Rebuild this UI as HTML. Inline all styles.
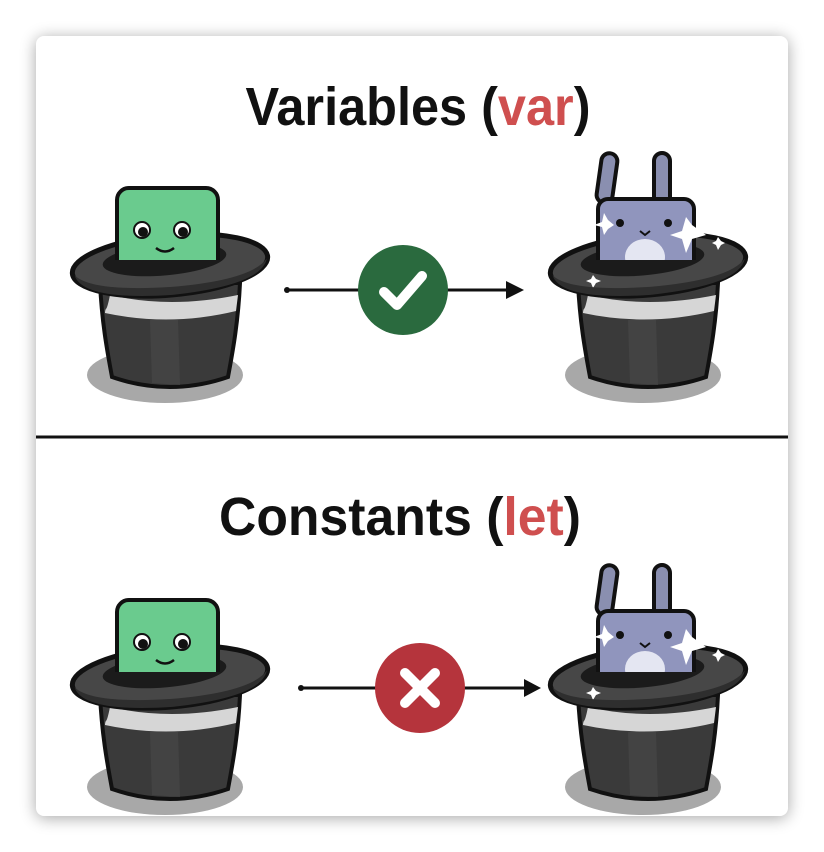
<!DOCTYPE html>
<html><head><meta charset="utf-8"><style>
html,body{margin:0;padding:0;background:#fff;}
svg{display:block}
</style></head><body>
<svg width="824" height="852" viewBox="0 0 824 852" xmlns="http://www.w3.org/2000/svg">
<defs>
<filter id="sh" x="-10%" y="-10%" width="120%" height="120%"><feGaussianBlur stdDeviation="8"/></filter>
<clipPath id="above"><rect x="-120" y="-200" width="240" height="195"/></clipPath>
<g id="hatback">
  <ellipse cx="-5" cy="110" rx="78" ry="28" fill="#a8a8a8"/>
  <path d="M-70,18 C-68,60 -62,90 -58,112 Q0,132 58,112 C62,90 68,60 70,18 Z" fill="#3a3a3a" stroke="#111" stroke-width="4"/>
  <path d="M-60,30 C-64,50 -64,40 -65,48 Q0,62 66,46 L68,30 Q0,44 -60,30Z" fill="#d6d6d6"/>
  <path d="M-20,55 L-18,118 L10,120 L8,55Z" fill="#4a4a4a" opacity="0.6"/>
  <g transform="rotate(-5)">
    <ellipse cx="0" cy="0" rx="98" ry="30" fill="#474747" stroke="#111" stroke-width="5"/>
    <ellipse cx="-5" cy="-6" rx="62" ry="16" fill="#1b1b1b"/>
  </g>
</g>
<g id="hatfront">
  <g transform="rotate(-5)">
    <path d="M-96,2 Q-90,28 0,30 Q90,28 97,2 Q80,22 0,22 Q-80,20 -96,2Z" fill="#2e2e2e"/>
  </g>
</g>
<g id="block">
  <g clip-path="url(#above)">
    <rect x="-53" y="-77" width="101" height="85" rx="12" fill="#6acb8e" stroke="#111" stroke-width="4"/>
    <circle cx="-28" cy="-35" r="8" fill="#fff" stroke="#111" stroke-width="2"/>
    <circle cx="-27" cy="-33" r="5" fill="#111"/>
    <circle cx="12" cy="-35" r="8" fill="#fff" stroke="#111" stroke-width="2"/>
    <circle cx="13" cy="-33" r="5" fill="#111"/>
    <path d="M-14,-17 Q-5,-10 4,-17" fill="none" stroke="#111" stroke-width="2.5"/>
  </g>
</g>
<g id="bunny">
  <rect x="-50" y="-112" width="16" height="50" rx="8" fill="#8a8fb0" stroke="#111" stroke-width="4" transform="rotate(8 -42 -80)"/>
  <rect x="6" y="-112" width="16" height="55" rx="8" fill="#8a8fb0" stroke="#111" stroke-width="4"/>
  <g clip-path="url(#above)">
    <rect x="-50" y="-66" width="96" height="80" rx="10" fill="#9095bd" stroke="#111" stroke-width="4"/>
    <ellipse cx="-3" cy="-8" rx="20" ry="18" fill="#e4e6f2"/>
    <circle cx="-28" cy="-42" r="4" fill="#111"/>
    <circle cx="20" cy="-42" r="4" fill="#111"/>
    <path d="M-8,-34 L-3,-30 L2,-34" fill="none" stroke="#111" stroke-width="2"/>
  </g>
  <path d="M44,-40 L58,-30 L44,-26 L38,-12 L34,-26 L22,-30 L34,-34 L38,-48Z" fill="#fff"/>
  <path d="M-40,-45 L-34,-40 L-40,-36 L-44,-30 L-46,-38 L-54,-40 L-46,-43 L-44,-52Z" fill="#fff"/>
  <path d="M70,-28 L73,-24 L77,-22 L73,-20 L70,-15 L68,-20 L64,-22 L68,-24Z" fill="#fff"/>
  <path d="M-55,10 L-52,14 L-47,16 L-52,18 L-55,23 L-57,18 L-62,16 L-57,14Z" fill="#fff"/>
</g>
</defs>

<rect x="36" y="38" width="752" height="780" rx="8" fill="#000" opacity="0.35" filter="url(#sh)"/>
<rect x="36" y="36" width="752" height="780" rx="8" fill="#fff"/>

<text x="418" y="125" text-anchor="middle" font-family="Liberation Sans, sans-serif" font-size="54" font-weight="bold" textLength="345" lengthAdjust="spacingAndGlyphs" fill="#111">Variables (<tspan fill="#cf4f4f">var</tspan>)</text>

<g transform="translate(170,265)"><use href="#hatback"/><use href="#block"/><use href="#hatfront"/></g>
<g transform="translate(648,265)"><use href="#hatback"/><use href="#bunny"/><use href="#hatfront"/></g>

<line x1="287" y1="290" x2="510" y2="290" stroke="#111" stroke-width="3"/>
<circle cx="287" cy="290" r="3" fill="#111"/>
<path d="M506,281 L524,290 L506,299Z" fill="#111"/>
<circle cx="403" cy="290" r="45" fill="#2a6a3e"/>
<path d="M384,292 L397,305 L422,276" fill="none" stroke="#fff" stroke-width="10" stroke-linecap="round" stroke-linejoin="round"/>

<line x1="36" y1="437" x2="788" y2="437" stroke="#111" stroke-width="3"/>

<text x="400" y="535" text-anchor="middle" font-family="Liberation Sans, sans-serif" font-size="54" font-weight="bold" textLength="362" lengthAdjust="spacingAndGlyphs" fill="#111">Constants (<tspan fill="#cf4f4f">let</tspan>)</text>

<g transform="translate(170,677)"><use href="#hatback"/><use href="#block"/><use href="#hatfront"/></g>
<g transform="translate(648,677)"><use href="#hatback"/><use href="#bunny"/><use href="#hatfront"/></g>

<line x1="301" y1="688" x2="528" y2="688" stroke="#111" stroke-width="3"/>
<circle cx="301" cy="688" r="3" fill="#111"/>
<path d="M524,679 L541,688 L524,697Z" fill="#111"/>
<circle cx="420" cy="688" r="45" fill="#b5343c"/>
<path d="M405,673 L435,703 M435,673 L405,703" fill="none" stroke="#fff" stroke-width="10" stroke-linecap="round"/>
</svg>
</body></html>
